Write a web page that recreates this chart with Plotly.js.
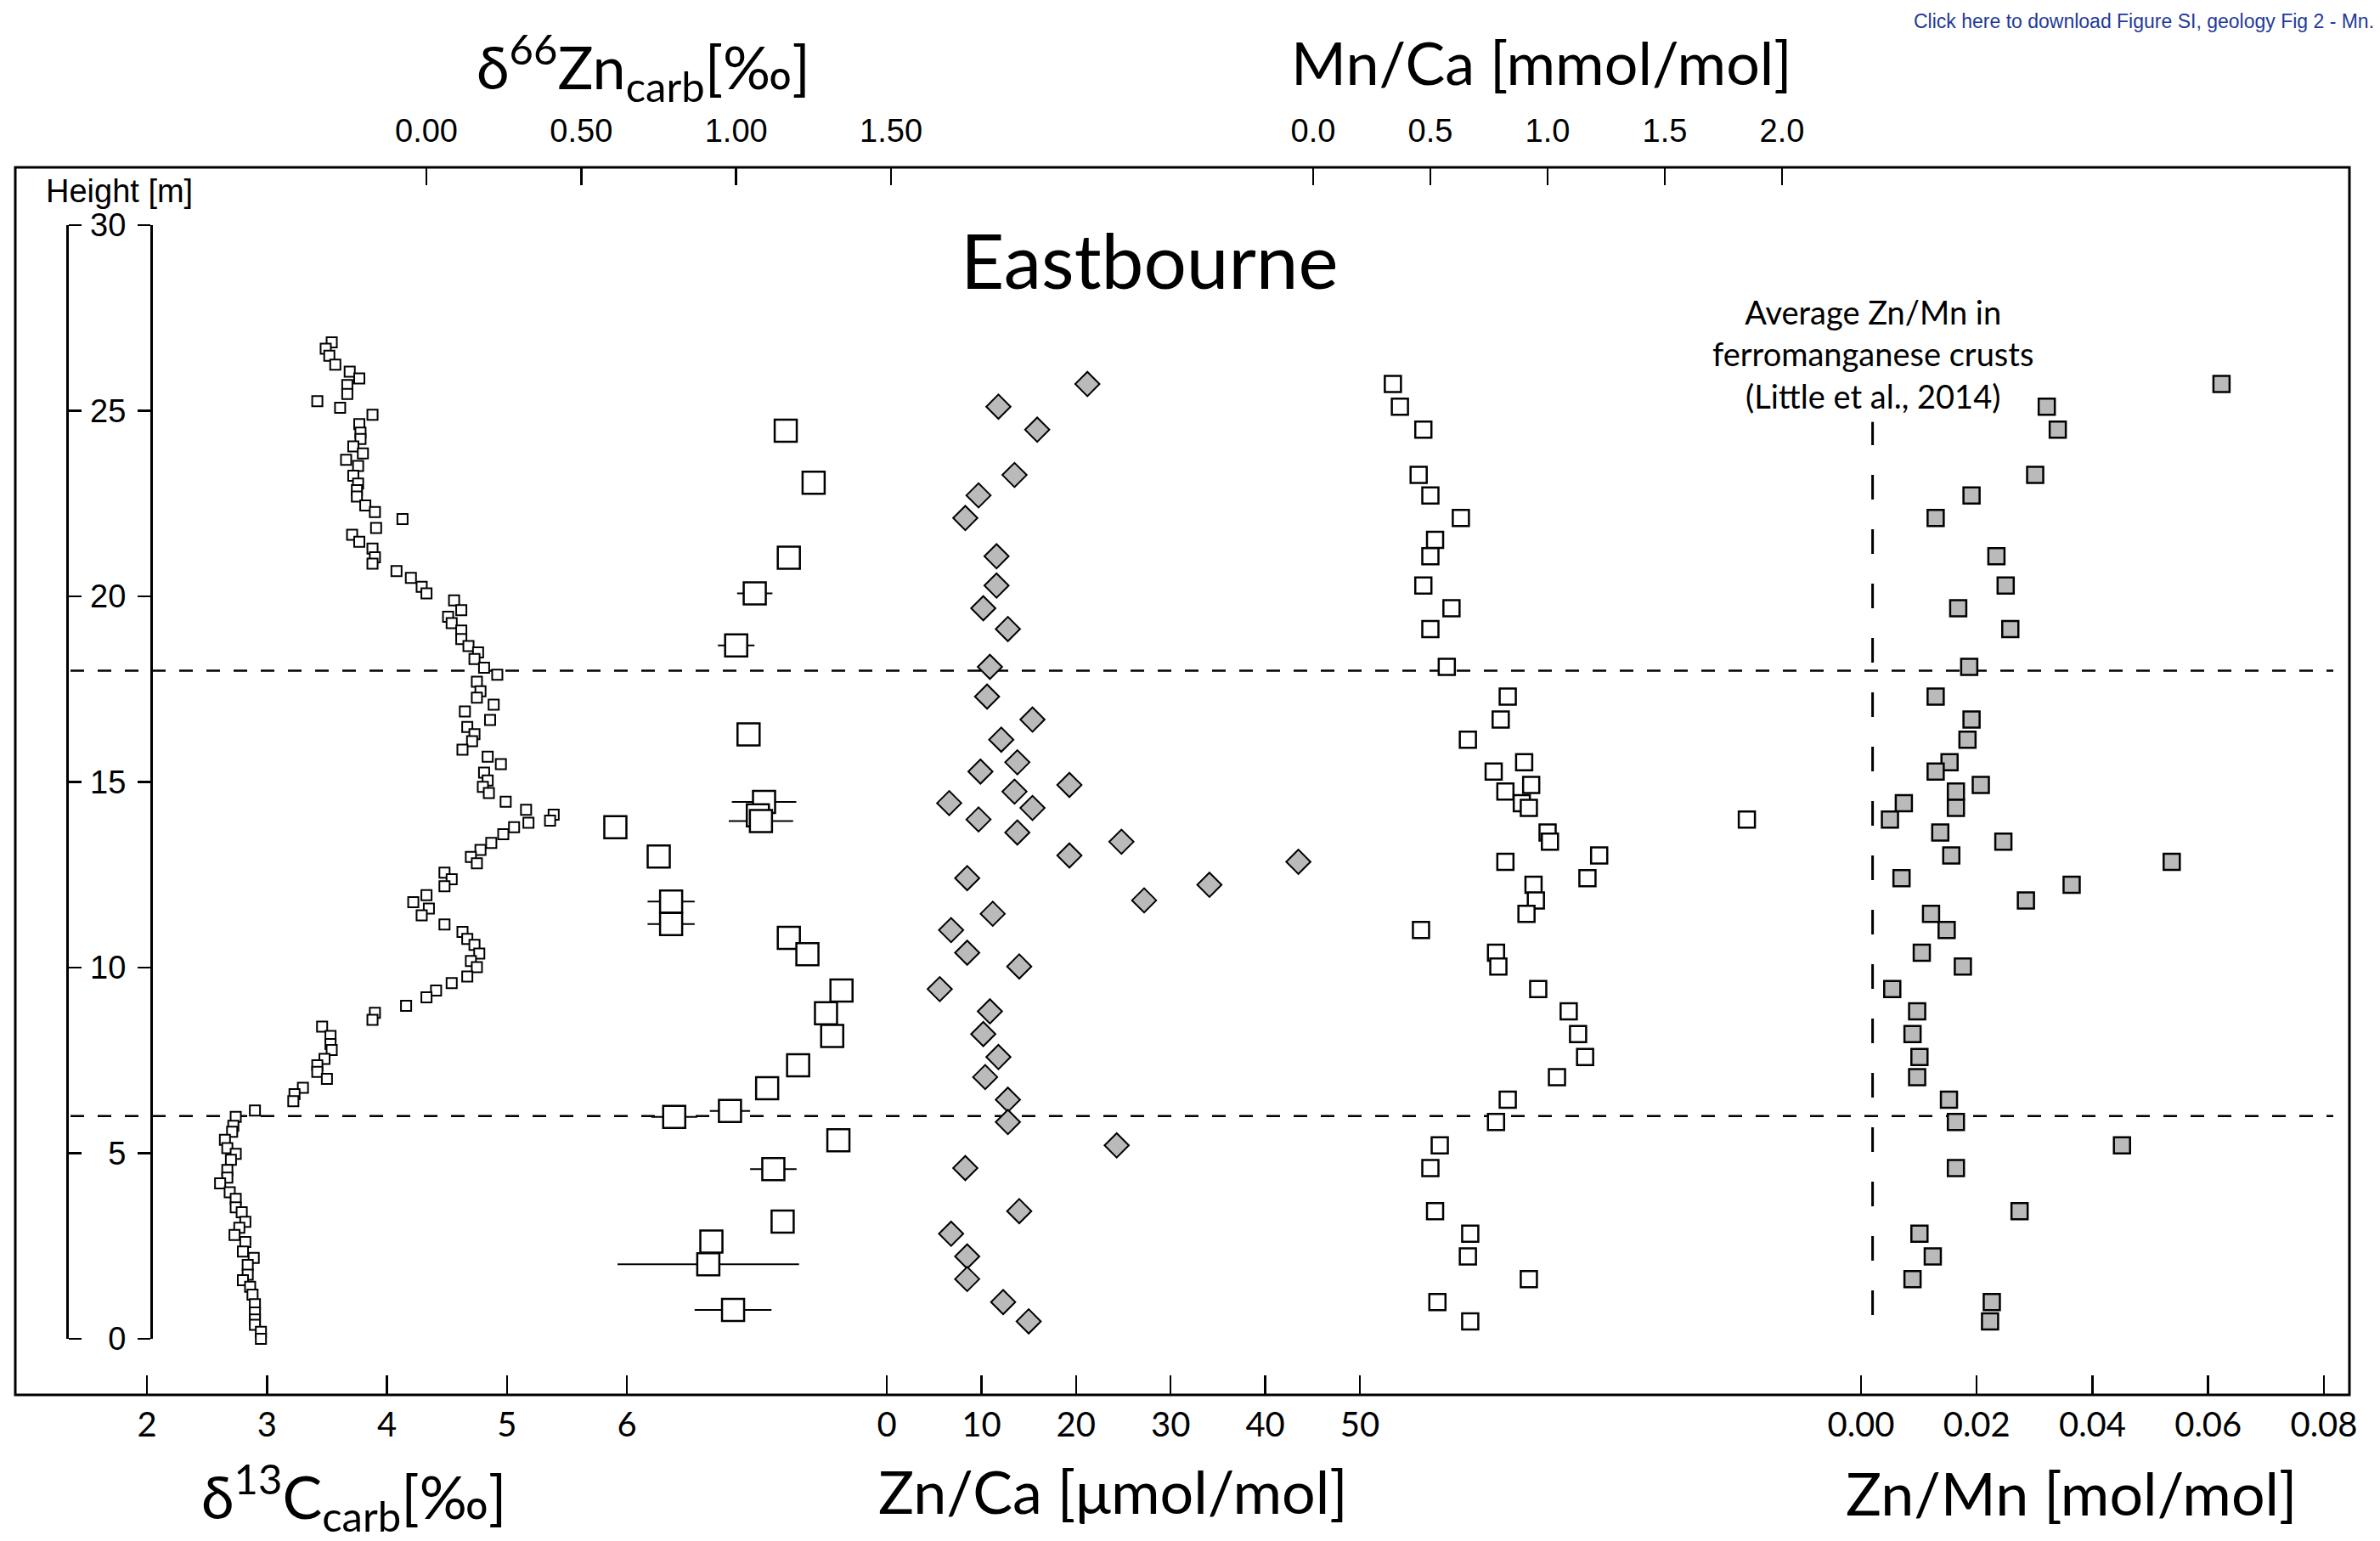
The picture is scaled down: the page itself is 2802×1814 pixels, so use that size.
<!DOCTYPE html>
<html><head><meta charset="utf-8">
<script src="https://cdn.plot.ly/plotly-3.0.1.min.js"></script>
<style>html,body{margin:0;padding:0;background:#fff}#chart{width:2802px;height:1814px}</style>
</head><body><div id="chart"></div>
<script>
// ---------------- DATA ----------------
// d13C carb [permil] vs height [m]
const hC13 = [26.84,26.67,26.48,26.24,26.05,25.87,25.69,25.45,25.26,25.08,24.89,24.64,24.41,24.24,24.04,23.85,23.68,23.51,23.25,23.04,22.86,22.69,22.45,22.27,22.08,21.84,21.66,21.47,21.29,21.05,20.88,20.68,20.50,20.26,20.08,19.89,19.63,19.45,19.28,19.08,18.85,18.66,18.49,18.31,18.08,17.89,17.70,17.44,17.27,17.08,16.90,16.67,16.48,16.29,16.10,15.87,15.68,15.48,15.25,15.04,14.87,14.70,14.47,
  14.25,14.12,13.96,13.90,13.78,13.59,13.36,13.17,12.98,12.81,12.56,12.38,12.19,11.95,11.76,11.59,11.41,11.16,10.96,10.77,10.61,10.38,10.18,10.01,9.76,9.58,9.38,9.20,8.97,8.78,8.59,8.41,8.16,7.94,7.78,7.54,7.37,7.19,7.00,6.76,6.59,6.40,6.15,5.98,5.74,5.58,5.36,5.14,4.98,4.82,4.55,4.34,4.19,3.95,3.77,3.54,3.41,3.15,2.99,2.80,2.61,2.35,2.18,1.99,1.73,1.58,1.40,1.19,0.93,0.71,0.52,0.38,0.19,0.00];
const d13C = [3.54,3.49,3.52,3.57,3.69,3.77,3.67,3.67,3.42,3.61,3.88,3.77,3.78,3.78,3.72,3.80,3.66,3.76,3.72,3.76,3.75,3.75,3.82,3.90,4.13,3.91,3.71,3.77,3.88,3.90,3.88,4.08,4.20,4.29,4.33,4.56,4.62,4.51,4.54,4.62,4.62,4.68,4.76,4.73,4.81,4.92,4.75,4.78,4.75,4.89,4.65,4.86,4.67,4.73,4.71,4.63,4.84,4.95,4.81,4.84,4.80,4.85,4.99,
  5.16,5.39,5.36,5.18,5.06,4.97,4.87,4.78,4.70,4.75,4.48,4.54,4.48,4.33,4.22,4.35,4.29,4.48,4.63,4.67,4.73,4.77,4.70,4.75,4.67,4.54,4.41,4.33,4.16,3.90,3.88,3.46,3.53,3.53,3.54,3.48,3.42,3.42,3.50,3.30,3.23,3.22,2.90,2.74,2.72,2.71,2.65,2.67,2.74,2.70,2.67,2.67,2.61,2.69,2.74,2.74,2.79,2.82,2.77,2.73,2.82,2.80,2.89,2.84,2.84,2.80,2.86,2.88,2.90,2.90,2.90,2.90,2.95,2.95];

// d66Zn carb [permil] with 2SD error
const hZn66 = [24.46,23.06,21.04,20.08,18.68,16.28,14.46,14.10,13.95,13.78,12.99,11.78,11.17,10.80,10.36,9.38,8.77,8.16,7.37,6.75,6.14,5.98,5.35,4.57,3.16,2.62,2.01,0.78];
const d66Zn = [1.16,1.25,1.17,1.06,1.00,1.04,1.09,1.07,1.08,0.61,0.75,0.79,0.79,1.17,1.23,1.34,1.29,1.31,1.20,1.10,0.98,0.80,1.33,1.12,1.15,0.92,0.91,0.99];
const d66ZnErr = [0,0,0,0.057,0.059,0,0.104,0,0.104,0,0,0.076,0.076,0.035,0,0.037,0.037,0.03,0,0,0.065,0.074,0,0.075,0,0.035,0.293,0.124];

// trace element samples (Zn/Ca, Zn/Mn)
const hTrace = [25.72,25.11,24.49,23.27,22.72,22.11,21.08,20.29,19.68,19.12,18.10,17.30,16.68,16.14,15.53,15.28,14.92,14.74,14.43,14.30,13.99,13.64,13.39,13.02,12.85,12.41,12.23,11.81,11.45,11.01,10.40,10.03,9.42,8.82,8.21,7.59,7.05,6.44,5.84,5.21,4.60,3.44,2.83,2.22,1.61,0.99,0.47];
const znCa = [21.2,11.8,15.9,13.5,9.7,8.3,11.6,11.6,10.2,12.8,10.9,10.6,15.4,12.1,13.8,9.9,19.3,13.5,6.6,15.4,9.7,13.8,24.8,19.3,43.5,8.5,34.1,27.2,11.2,6.8,8.5,14.0,5.6,10.9,10.2,11.8,10.4,12.8,12.8,24.3,8.3,14.0,6.8,8.5,8.5,12.3,15.0];
const znMn = [0.0623,0.0321,0.0340,0.0301,0.0191,0.0129,0.0234,0.0250,0.0168,0.0258,0.0187,0.0129,0.0191,0.0184,0.0153,0.0129,0.0207,0.0164,0.0074,0.0164,0.0050,0.0137,0.0246,0.0156,0.0537,0.0070,0.0364,0.0285,0.0121,0.0148,0.0105,0.0176,0.0054,0.0097,0.0089,0.0101,0.0097,0.0152,0.0164,0.0451,0.0164,0.0274,0.0101,0.0124,0.0089,0.0226,0.0223];

// Mn/Ca [mmol/mol]
const hMnCa = [25.72,25.11,24.49,23.27,22.72,22.11,21.52,21.08,20.29,19.68,19.12,18.10,17.30,16.68,16.14,15.53,15.28,14.92,14.74,14.43,14.30,13.99,13.64,13.39,13.02,12.85,12.41,12.23,11.81,11.45,11.01,10.40,10.03,9.42,8.82,8.21,7.59,7.05,6.44,5.84,5.21,4.60,3.44,2.83,2.22,1.61,0.99,0.47];
const mnCa = [0.34,0.37,0.47,0.45,0.50,0.63,0.52,0.50,0.47,0.59,0.50,0.57,0.83,0.80,0.66,0.90,0.77,0.93,0.82,0.89,0.92,1.85,1.00,1.01,1.22,0.82,1.17,0.94,0.95,0.91,0.46,0.78,0.79,0.96,1.09,1.13,1.16,1.04,0.83,0.78,0.54,0.50,0.52,0.67,0.66,0.92,0.53,0.67];

// reference levels
const boundaries = [6, 18];
const avgZnMnCrust = 0.002;
const avgLineSpan = [0.64, 24.7];

// tick values
const heightTicks = [0,5,10,15,20,25,30];
const d13CTicks = [2,3,4,5,6];
const znCaTicks = [0,10,20,30,40,50];
const znMnTicks = [0,0.02,0.04,0.06,0.08];
const d66ZnTicks = [0,0.5,1.0,1.5];
const mnCaTicks = [0,0.5,1.0,1.5,2.0];

// ---------------- LAYOUT GEOMETRY ----------------
const W = 2802, H = 1814;
const L = 18, R = 2766, T = 197, B = 1642;
function xRange(px0, v0, ppu){ return [v0 + (L - px0)/ppu, v0 + (R - px0)/ppu]; }
function pX(px){ return (px - L)/(R - L); }
function pY(py){ return (B - py)/(B - T); }
const hPx0 = 1576, hPpu = 43.7;

const MY = 'Lato, "Open Sans", sans-serif';
const AR = '"Liberation Sans", Arial, sans-serif';

const baseX = {
  anchor: 'free', showline: false, showgrid: false, zeroline: false,
  ticks: 'inside', tickwidth: 2.5, tickcolor: '#000', tickmode: 'array',
  fixedrange: true
};
const botX = Object.assign({}, baseX, {side: 'bottom', position: 0, ticklen: 23,
  tickfont: {family: MY, size: 40, color: '#000'}, ticklabelstandoff: 8});
const topX = Object.assign({}, baseX, {side: 'top', position: 1, ticklen: 20,
  tickfont: {family: AR, size: 38, color: '#000'}, ticklabelstandoff: 22});

const layout = {
  width: W, height: H, autosize: false,
  margin: {l: L, r: W - R, t: T, b: H - B, pad: 0},
  paper_bgcolor: '#fff', plot_bgcolor: 'rgba(0,0,0,0)',
  showlegend: false,
  xaxis: Object.assign({}, botX, {range: xRange(173, 2, 141.25), tickvals: d13CTicks, ticktext: d13CTicks.map(String)}),
  xaxis2: Object.assign({}, botX, {overlaying: 'x', range: xRange(1044, 0, 11.14), tickvals: znCaTicks, ticktext: znCaTicks.map(String)}),
  xaxis3: Object.assign({}, botX, {overlaying: 'x', range: xRange(2191, 0, 6812), tickvals: znMnTicks, ticktext: znMnTicks.map(v => v.toFixed(2))}),
  xaxis4: Object.assign({}, topX, {overlaying: 'x', range: xRange(502, 0, 364.7), tickvals: d66ZnTicks, ticktext: d66ZnTicks.map(v => v.toFixed(2))}),
  xaxis5: Object.assign({}, topX, {overlaying: 'x', range: xRange(1546, 0, 276), tickvals: mnCaTicks, ticktext: mnCaTicks.map(v => v.toFixed(1))}),
  yaxis: {
    range: [0, 30], domain: [pY(hPx0), pY(hPx0 - 30*hPpu)],
    anchor: 'free', position: pX(178), side: 'left',
    showline: true, linewidth: 2.5, linecolor: '#000',
    ticks: 'outside', ticklen: 15, tickwidth: 2.5, tickcolor: '#000',
    tickmode: 'array', tickvals: heightTicks, ticktext: heightTicks.map(String),
    tickfont: {family: AR, size: 38, color: '#000'}, ticklabelstandoff: 6,
    showgrid: false, zeroline: false, fixedrange: true
  },
  yaxis2: {
    overlaying: 'y', range: [0, 30],
    anchor: 'free', position: pX(79), side: 'right',
    showline: true, linewidth: 2.5, linecolor: '#000',
    ticks: 'outside', ticklen: 15, tickwidth: 2.5, tickcolor: '#000',
    tickmode: 'array', tickvals: heightTicks, showticklabels: false,
    showgrid: false, zeroline: false, fixedrange: true
  },
  shapes: [
    {type: 'rect', xref: 'paper', yref: 'paper', x0: 0, x1: 1, y0: 0, y1: 1,
     line: {color: '#000', width: 3}, fillcolor: 'rgba(0,0,0,0)', layer: 'above'},
    ...boundaries.map(b => ({type: 'line', xref: 'paper', yref: 'y', x0: pX(83), x1: pX(2747), y0: b, y1: b,
      line: {color: '#000', width: 2.5, dash: '16px,16px'}, layer: 'below'})),
    {type: 'line', xref: 'x3', yref: 'y', x0: avgZnMnCrust, x1: avgZnMnCrust, y0: avgLineSpan[0], y1: avgLineSpan[1],
     line: {color: '#000', width: 3, dash: '29px,35px'}, layer: 'below'}
  ],
  annotations: [
    {text: 'Eastbourne', xref: 'paper', yref: 'paper', x: pX(1353), y: pY(305), xanchor: 'center', yanchor: 'middle',
     showarrow: false, font: {family: MY, size: 89, color: '#000'}},
    {text: 'Height [m]', xref: 'paper', yref: 'paper', x: pX(140), y: pY(225), xanchor: 'center', yanchor: 'middle',
     showarrow: false, font: {family: AR, size: 38, color: '#000'}},
    {text: 'Average Zn/Mn in<br>ferromanganese crusts<br>(Little et al., 2014)', xref: 'paper', yref: 'paper',
     x: pX(2205), y: pY(416), xanchor: 'center', yanchor: 'middle', align: 'center',
     showarrow: false, font: {family: MY, size: 38, color: '#000'}},
    {text: 'δ<sup>66</sup>Zn<sub>carb</sub>[‰]', xref: 'paper', yref: 'paper', x: pX(757), y: pY(79), xanchor: 'center', yanchor: 'middle',
     showarrow: false, font: {family: MY, size: 70, color: '#000'}},
    {text: 'Mn/Ca [mmol/mol]', xref: 'paper', yref: 'paper', x: pX(1815), y: pY(73), xanchor: 'center', yanchor: 'middle',
     showarrow: false, font: {family: MY, size: 70, color: '#000'}},
    {text: 'δ<sup>13</sup>C<sub>carb</sub>[‰]', xref: 'paper', yref: 'paper', x: pX(417), y: pY(1762), xanchor: 'center', yanchor: 'middle',
     showarrow: false, font: {family: MY, size: 70, color: '#000'}},
    {text: 'Zn/Ca [μmol/mol]', xref: 'paper', yref: 'paper', x: pX(1310), y: pY(1755), xanchor: 'center', yanchor: 'middle',
     showarrow: false, font: {family: MY, size: 70, color: '#000'}},
    {text: 'Zn/Mn [mol/mol]', xref: 'paper', yref: 'paper', x: pX(2439), y: pY(1757), xanchor: 'center', yanchor: 'middle',
     showarrow: false, font: {family: MY, size: 70, color: '#000'}},
    {text: 'Click here to download Figure SI, geology Fig 2 - Mn.', xref: 'paper', yref: 'paper', x: pX(2797), y: pY(25),
     xanchor: 'right', yanchor: 'middle', showarrow: false, font: {family: AR, size: 23, color: '#1f3a9a'}}
  ]
};

const outline = {color: '#000', width: 2.5};
const data = [
  {type: 'scatter', mode: 'markers', x: [], y: [], xaxis: 'x', yaxis: 'y2', hoverinfo: 'skip', showlegend: false},
  {type: 'scatter', mode: 'markers', name: 'δ13C', x: d13C, y: hC13, xaxis: 'x', yaxis: 'y', cliponaxis: false,
   marker: {symbol: 'square', size: 12, color: '#fff', line: {color: '#000', width: 2}}},
  {type: 'scatter', mode: 'markers', name: 'δ66Zn', x: d66Zn, y: hZn66, xaxis: 'x4', yaxis: 'y', cliponaxis: false,
   error_x: {type: 'data', array: d66ZnErr, symmetric: true, visible: true, color: '#000', thickness: 2, width: 0},
   marker: {symbol: 'square', size: 26, color: '#fff', line: outline}},
  {type: 'scatter', mode: 'markers', name: 'Zn/Ca', x: znCa, y: hTrace, xaxis: 'x2', yaxis: 'y', cliponaxis: false,
   marker: {symbol: 'diamond', size: 22, color: '#bababa', line: {color: '#000', width: 2}}},
  {type: 'scatter', mode: 'markers', name: 'Mn/Ca', x: mnCa, y: hMnCa, xaxis: 'x5', yaxis: 'y', cliponaxis: false,
   marker: {symbol: 'square', size: 19, color: '#fff', line: outline}},
  {type: 'scatter', mode: 'markers', name: 'Zn/Mn', x: znMn, y: hTrace, xaxis: 'x3', yaxis: 'y', cliponaxis: false,
   marker: {symbol: 'square', size: 19, color: '#bababa', line: outline}}
];

Plotly.newPlot('chart', data, layout, {displayModeBar: false, staticPlot: true});
</script></body></html>
